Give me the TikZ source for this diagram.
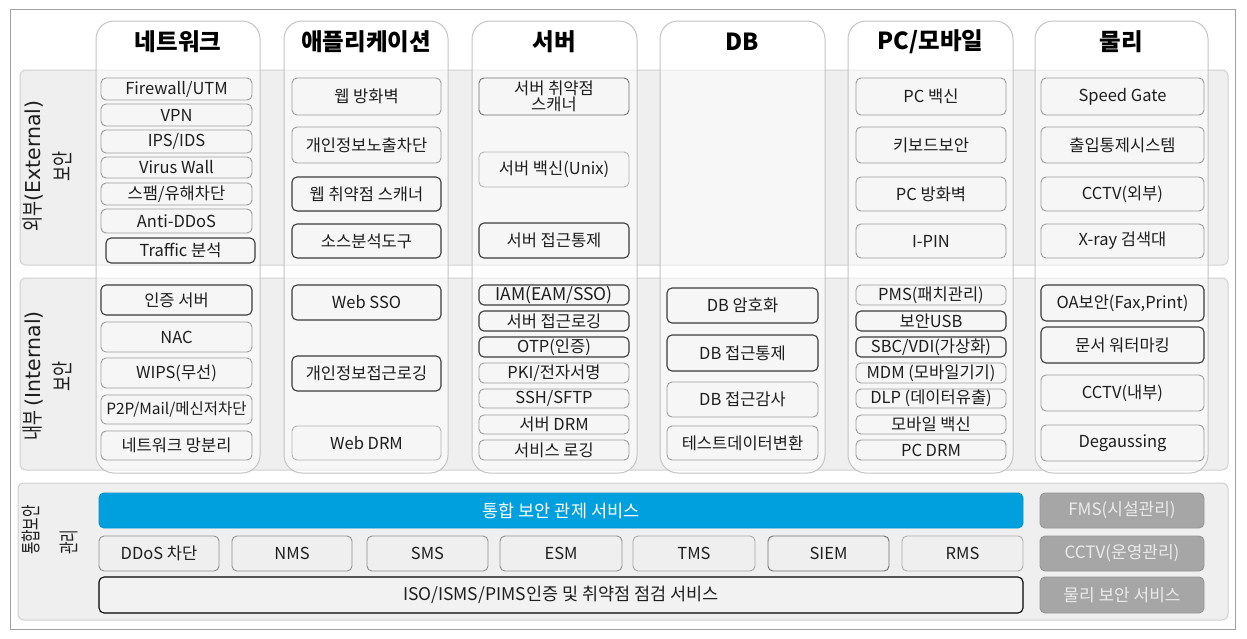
\documentclass[tikz,border=0pt]{standalone}
\usepackage{fontspec}
\setmainfont{Noto Sans CJK KR}
\newfontfamily\lblfont[FakeStretch=0.755]{Noto Sans CJK KR}
\newfontfamily\lblfontb[FakeStretch=0.68]{Noto Sans CJK KR}
\newfontfamily\lbllat{DejaVu Sans}
\definecolor{framecol}{HTML}{A0A0A0}
\definecolor{bandfill}{HTML}{EFEFEF}
\definecolor{bandline}{HTML}{D0D0D0}
\definecolor{colline}{HTML}{C4C4C4}
\definecolor{boxfill}{HTML}{F6F6F6}
\definecolor{boxlight}{HTML}{9C9C9C}
\definecolor{boxdark}{HTML}{3C3C3C}
\definecolor{txtcol}{HTML}{1E1E1E}
\definecolor{bluebar}{HTML}{00A0DF}
\definecolor{blueline}{HTML}{0091CA}
\definecolor{grayfill}{HTML}{A6A6A6}
\definecolor{grayline}{HTML}{959595}
\definecolor{graytxt}{HTML}{EAEAEA}
\definecolor{gmid}{HTML}{707070}
\definecolor{glt}{HTML}{B4B4B4}
\definecolor{gsb}{HTML}{909090}
\definecolor{gtms}{HTML}{A8A8A8}
\definecolor{grms}{HTML}{B0B0B0}
\definecolor{isofill}{HTML}{F2F2F2}
\newcommand\bx[7]{\node[#1,minimum width={#5-#3},minimum height={#6-#4}] (#2) at ({(#3+#5)/2},{(#4+#6)/2}) {#7};}
\begin{document}
\begin{tikzpicture}[x=1pt,y=-1pt,
  band/.style={fill=bandfill,draw=bandline,line width=1pt,rounded corners=6pt},
  colm/.style={fill=white,fill opacity=0.55,draw=colline,line width=1pt,rounded corners=18pt},
  title/.style={font=\fontsize{23.5}{26}\selectfont\bfseries,text=black,inner sep=0pt},
  box/.style={draw=boxlight,fill=boxfill,line width=0.9pt,rounded corners=5pt,inner sep=0pt,text=txtcol,font=\fontsize{16.5}{18}\selectfont},
  dbox/.style={box,draw=boxdark,line width=1.1pt},
  tbox/.style={box,font=\fontsize{16.5}{18}\selectfont},
  tdbox/.style={dbox,font=\fontsize{16.5}{18}\selectfont},
  sbox/.style={box,draw=gsb,fill=bandfill},
  bluebox/.style={fill=bluebar,draw=blueline,line width=0.9pt,rounded corners=5pt,inner sep=0pt,text=white,font=\fontsize{17.5}{18}\selectfont},
  graybox/.style={fill=grayfill,draw=grayline,line width=0.9pt,rounded corners=5pt,inner sep=0pt,text=graytxt,font=\fontsize{17}{18}\selectfont},
  rowlbl/.style={rotate=90,inner sep=0pt,text=txtcol}
]
\useasboundingbox (0,0) rectangle (1247,638);
\fill[white] (0,0) rectangle (1247,638);
\draw[framecol,line width=1pt] (10,9) rectangle (1235,629);
% bands
\draw[band] (20,70) rectangle (1228,265);
\draw[band] (20,278) rectangle (1228,470);
\draw[band] (18,483) rectangle (1228,620);
% columns
\draw[colm] (96,21) rectangle (260,473);
\draw[colm] (284,21) rectangle (448,473);
\draw[colm] (472,21) rectangle (637,473);
\draw[colm] (660,21) rectangle (825,473);
\draw[colm] (848,21) rectangle (1013,473);
\draw[colm] (1035,21) rectangle (1208,473);
% titles
\node[title] (tN) at (178,42) {네트워크};
\node[title] (tA) at (366,42) {애플리케이션};
\node[title] (tS) at (554.5,42) {서버};
\node[title] (tD) at (742.5,42) {DB};
\node[title] (tP) at (930.5,42) {PC/모바일};
\node[title] (tH) at (1121.5,42) {물리};
% row labels
\node[rowlbl,align=center,font=\fontsize{21.6}{30}\selectfont] (lext) at (47,166) {{\lblfont 외부}{\fontsize{20.5}{30}\selectfont\lbllat (External)}\\{\lblfont 보안}};
\node[rowlbl,align=center,font=\fontsize{21.6}{30}\selectfont] (lin) at (47,376) {{\lblfont 내부} {\fontsize{20.5}{30}\selectfont\lbllat (Internal)}\\{\lblfont 보안}};
\node[rowlbl,align=left,font=\fontsize{19.9}{38}\selectfont] (lmg) at (50,530) {\lblfontb 통합보안\\\lblfontb 관리};
% network external
\bx{box}{n1}{101}{78}{252}{100}{Firewall/UTM}
\bx{box}{n2}{101}{104}{252}{126}{VPN}
\bx{box}{n3}{101}{130}{252}{153}{IPS/IDS}
\bx{box}{n4}{101}{157}{252}{178}{Virus Wall}
\bx{box}{n5}{101}{183}{252}{205}{스팸/유해차단}
\bx{box}{n6}{101}{209}{252}{233}{Anti-DDoS}
\bx{dbox}{n7}{106}{238}{255}{263}{Traffic 분석}
% application external
\bx{box}{a1}{292}{78}{441}{115}{웹 방화벽}
\bx{box}{a2}{292}{127}{441}{163}{개인정보노출차단}
\bx{dbox}{a3}{292}{177}{441}{211}{웹 취약점 스캐너}
\bx{dbox}{a4}{292}{224}{441}{258}{소스분석도구}
% server external
\bx{box,draw=gmid,align=center,font=\fontsize{16.5}{16.5}\selectfont}{s1}{479}{78}{629}{115}{서버 취약점\\스캐너}
\bx{box,draw=glt}{s2}{479}{152}{629}{187}{서버 백신(Unix)}
\bx{dbox}{s3}{479}{223}{629}{258}{서버 접근통제}
% pc external
\bx{box}{p1}{856}{78}{1006}{115}{PC 백신}
\bx{box}{p2}{856}{127}{1006}{163}{키보드보안}
\bx{box}{p3}{856}{177}{1006}{211}{PC 방화벽}
\bx{box}{p4}{856}{224}{1006}{258}{I-PIN}
% physical external
\bx{box}{h1}{1041}{78}{1204}{115}{Speed Gate}
\bx{box}{h2}{1041}{127}{1204}{163}{출입통제시스템}
\bx{box}{h3}{1041}{177}{1204}{211}{CCTV(외부)}
\bx{box}{h4}{1041}{224}{1204}{258}{X-ray 검색대}
% network internal
\bx{dbox}{ni1}{101}{285}{252}{315}{인증 서버}
\bx{box}{ni2}{101}{322}{252}{352}{NAC}
\bx{box}{ni3}{101}{358}{252}{388}{WIPS(무선)}
\bx{box,font=\fontsize{15.5}{17}\selectfont}{ni4}{101}{395}{252}{424}{P2P/Mail/메신저차단}
\bx{box}{ni5}{101}{431}{252}{460}{네트워크 망분리}
% application internal
\bx{dbox}{ai1}{292}{285}{441}{320}{Web SSO}
\bx{dbox}{ai2}{292}{356}{441}{391}{개인정보접근로깅}
\bx{box,draw=glt}{ai3}{292}{426}{441}{460}{Web DRM}
% server internal
\bx{tdbox,font=\fontsize{17.5}{18}\selectfont}{si1}{479}{285}{629}{305}{IAM(EAM/SSO)}
\bx{tdbox}{si2}{479}{311}{629}{331}{서버 접근로깅}
\bx{tdbox}{si3}{479}{337}{629}{357}{OTP(인증)}
\bx{tbox}{si4}{479}{363}{629}{383}{PKI/전자서명}
\bx{tbox}{si5}{479}{389}{629}{408}{SSH/SFTP}
\bx{tbox}{si6}{479}{415}{629}{434}{서버 DRM}
\bx{tbox}{si7}{479}{440}{629}{460}{서비스 로깅}
% db internal
\bx{dbox}{di1}{667}{288}{818}{323}{DB 암호화}
\bx{dbox}{di2}{667}{335}{818}{371}{DB 접근통제}
\bx{box}{di3}{667}{382}{818}{417}{DB 접근감사}
\bx{box}{di4}{667}{426}{818}{460}{테스트데이터변환}
% pc internal
\bx{tbox}{pi1}{856}{285}{1006}{305}{PMS(패치관리)}
\bx{tdbox}{pi2}{856}{311}{1006}{331}{보안USB}
\bx{tdbox}{pi3}{856}{337}{1006}{357}{SBC/VDI(가상화)}
\bx{tbox}{pi4}{856}{363}{1006}{383}{MDM (모바일기기)}
\bx{tbox}{pi5}{856}{389}{1006}{408}{DLP (데이터유출)}
\bx{tbox}{pi6}{856}{415}{1006}{434}{모바일 백신}
\bx{tbox}{pi7}{856}{440}{1006}{460}{PC DRM}
% physical internal
\bx{dbox}{hi1}{1041}{285}{1204}{321}{OA보안(Fax,Print)}
\bx{dbox}{hi2}{1041}{327}{1204}{363}{문서 워터마킹}
\bx{box}{hi3}{1041}{375}{1204}{411}{CCTV(내부)}
\bx{box}{hi4}{1041}{425}{1204}{461}{Degaussing}
% integrated management
\bx{bluebox}{m1}{99}{493}{1023}{528}{통합 보안 관제 서비스}
\bx{sbox}{m2}{99}{536}{219}{571}{DDoS 차단}
\bx{sbox}{m3}{232}{536}{352}{571}{NMS}
\bx{sbox}{m4}{367}{536}{488}{571}{SMS}
\bx{sbox}{m5}{500}{536}{622}{571}{ESM}
\bx{sbox,draw=gtms}{m6}{633}{536}{755}{571}{TMS}
\bx{sbox,draw=gmid}{m7}{768}{536}{889}{571}{SIEM}
\bx{sbox,draw=grms}{m8}{902}{536}{1023}{571}{RMS}
\bx{dbox,fill=isofill,draw=black,font=\fontsize{17.5}{18}\selectfont}{m9}{99}{577}{1023}{613}{ISO/ISMS/PIMS인증 및 취약점 점검 서비스}
\bx{graybox}{g1}{1040}{493}{1204}{528}{FMS(시설관리)}
\bx{graybox}{g2}{1040}{536}{1204}{571}{CCTV(운영관리)}
\bx{graybox}{g3}{1040}{577}{1204}{613}{물리 보안 서비스}
\end{tikzpicture}
\end{document}
